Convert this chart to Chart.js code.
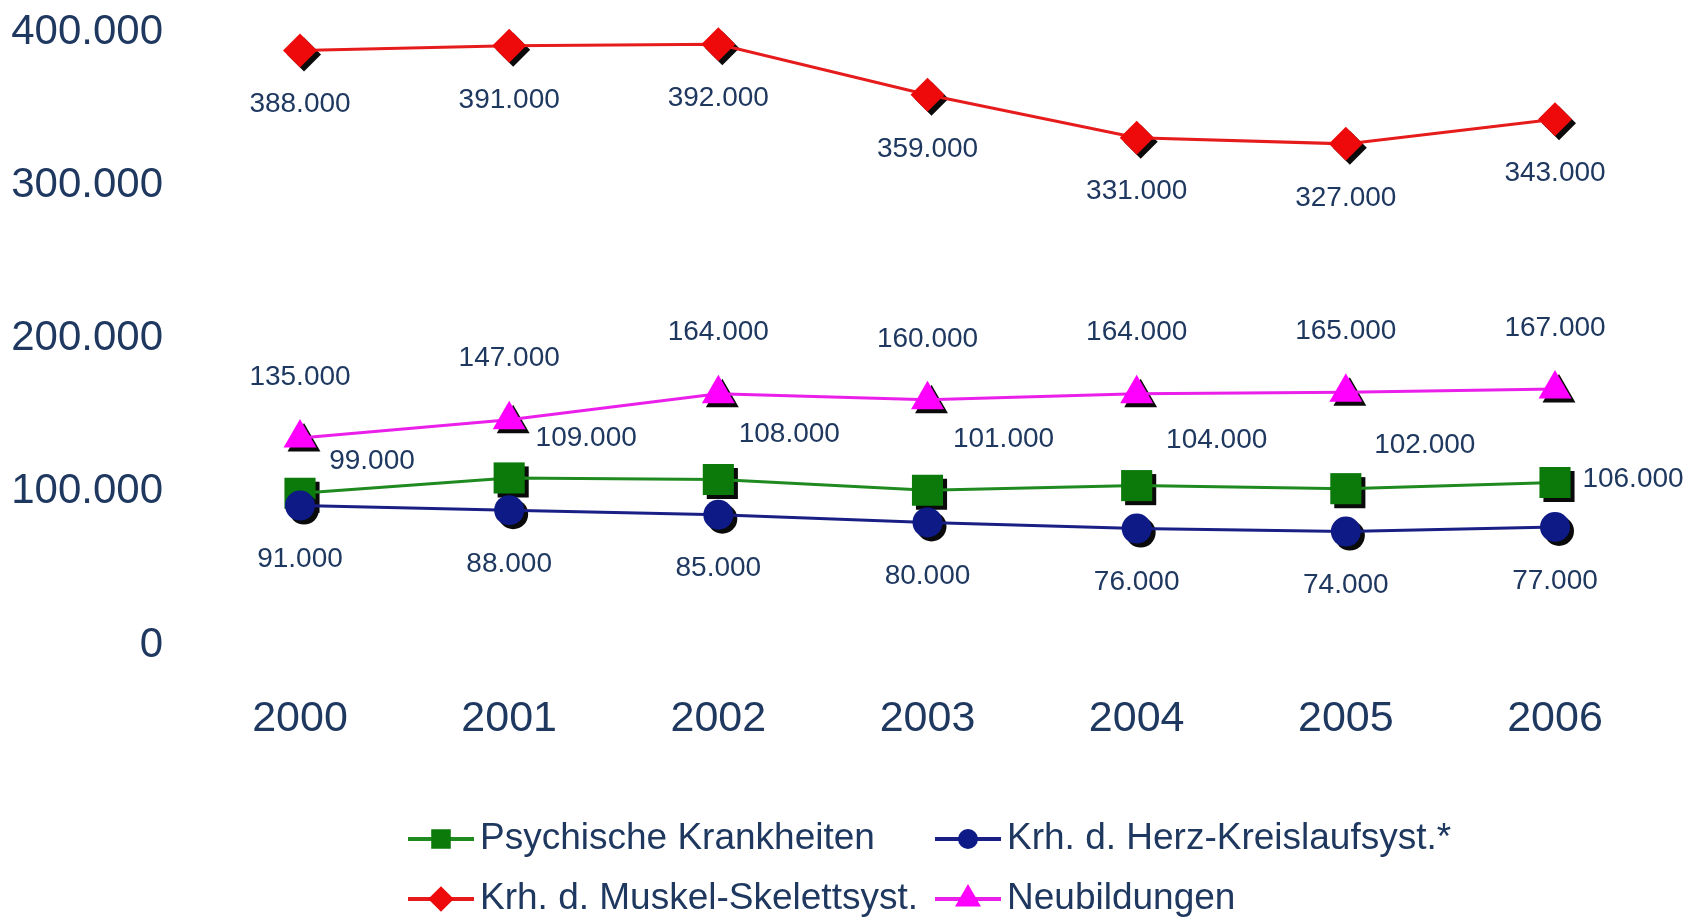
<!DOCTYPE html>
<html>
<head>
<meta charset="utf-8">
<title>AU-Tage nach Krankheitsarten</title>
<script src="https://cdn.jsdelivr.net/npm/chart.js@4.4.1/dist/chart.umd.min.js"></script>
<style>
  html, body { margin: 0; padding: 0; background: #fff; }
  #wrap { width: 1693px; height: 920px; position: relative; }
</style>
</head>
<body>
<div id="wrap"><canvas id="chartKrankheiten"></canvas></div>
<script>
/** data */
const years = ['2000', '2001', '2002', '2003', '2004', '2005', '2006'];
const psychisch = [99000, 109000, 108000, 101000, 104000, 102000, 106000];
const herzKreislauf = [91000, 88000, 85000, 80000, 76000, 74000, 77000];
const muskelSkelett = [388000, 391000, 392000, 359000, 331000, 327000, 343000];
const neubildungen = [135000, 147000, 164000, 160000, 164000, 165000, 167000];
const yTicks = [0, 100000, 200000, 300000, 400000];

const textColor = '#1f3860';
const fontFamily = '"Liberation Sans", Arial, sans-serif';

// 388000 -> "388.000"
function fmt(v) {
  return String(v).replace(/\B(?=(\d{3})+(?!\d))/g, '.');
}

/** where each series puts its value labels, relative to the marker */
const labelOffsets = {
  0: [[72, -32], [77, -40], [71, -45], [76, -51], [80, -45], [79, -43], [78, -3]],
  1: [[0, 54]],
  2: [[0, 54]],
  3: [[0, -61]]
};

/** black drop shadow behind every marker */
const markerShadow = {
  id: 'markerShadow',
  beforeDatasetDraw(chart, args) {
    const ctx = chart.ctx;
    ctx.save();
    ctx.fillStyle = '#0a0a0a';
    args.meta.data.forEach(pt => {
      const o = pt.options;
      Chart.helpers.drawPoint(ctx, {
        pointStyle: o.pointStyle, radius: o.radius, rotation: o.rotation, borderWidth: 0
      }, pt.x + 4, pt.y + 4);
    });
    ctx.restore();
  }
};

/** value labels next to the points */
const valueLabels = {
  id: 'valueLabels',
  afterDatasetsDraw(chart) {
    const ctx = chart.ctx;
    ctx.save();
    ctx.font = '28px ' + fontFamily;
    ctx.fillStyle = textColor;
    ctx.textBaseline = 'middle';
    ctx.textAlign = 'center';
    chart.data.datasets.forEach((ds, i) => {
      const offs = labelOffsets[i];
      chart.getDatasetMeta(i).data.forEach((pt, j) => {
        const o = offs[j] || offs[0];
        ctx.fillText(fmt(ds.data[j]), pt.x + o[0], pt.y + o[1]);
      });
    });
    ctx.restore();
  }
};

/** two column legend under the chart: line + marker + name */
const legendCells = [[408, 839], [935, 839], [408, 899], [935, 899]];
const gridLegend = {
  id: 'gridLegend',
  afterDraw(chart) {
    const ctx = chart.ctx;
    ctx.save();
    chart.data.datasets.forEach((ds, i) => {
      const [x, y] = legendCells[i];
      ctx.strokeStyle = ds.borderColor;
      ctx.lineWidth = 4;
      ctx.beginPath();
      ctx.moveTo(x, y);
      ctx.lineTo(x + 66, y);
      ctx.stroke();
      ctx.fillStyle = ds.pointBackgroundColor;
      ctx.strokeStyle = ds.pointBorderColor;
      Chart.helpers.drawPoint(ctx, {
        pointStyle: ds.pointStyle, radius: ds.legendRadius, rotation: 0, borderWidth: 1
      }, x + 33, y);
      ctx.fillStyle = textColor;
      ctx.font = '37px ' + fontFamily;
      ctx.textAlign = 'left';
      ctx.textBaseline = 'middle';
      ctx.fillText(ds.label, x + 72, y);
    });
    ctx.restore();
  }
};

const _chartKrankheiten = document.getElementById('chartKrankheiten');

new Chart(_chartKrankheiten, {
  type: 'line',
  data: {
    labels: years,
    datasets: [
      {
        label: 'Psychische Krankheiten',
        data: psychisch,
        borderColor: '#1f8a1f',
        borderWidth: 3,
        pointStyle: 'rect',
        pointRadius: 22,
        pointBackgroundColor: '#0b7a0b',
        pointBorderColor: '#0b7a0b',
        pointBorderWidth: 0,
        legendRadius: 11,
        order: 1
      },
      {
        label: 'Krh. d. Herz-Kreislaufsyst.*',
        data: herzKreislauf,
        borderColor: '#1a1f86',
        borderWidth: 3,
        pointStyle: 'circle',
        pointRadius: 15,
        pointBackgroundColor: '#0e1a86',
        pointBorderColor: '#0e1a86',
        pointBorderWidth: 0,
        legendRadius: 8,
        order: 0
      },
      {
        label: 'Krh. d. Muskel-Skelettsyst.',
        data: muskelSkelett,
        borderColor: '#e61c1c',
        borderWidth: 3,
        pointStyle: 'rectRot',
        pointRadius: 17,
        pointBackgroundColor: '#ee0a0a',
        pointBorderColor: '#ee0a0a',
        pointBorderWidth: 0,
        legendRadius: 10,
        order: 2
      },
      {
        label: 'Neubildungen',
        data: neubildungen,
        borderColor: '#ea1fea',
        borderWidth: 3,
        pointStyle: 'triangle',
        pointRadius: 19,
        pointBackgroundColor: '#ff00ff',
        pointBorderColor: '#ff00ff',
        pointBorderWidth: 0,
        legendRadius: 11,
        order: 3
      }
    ]
  },
  options: {
    responsive: true,
    maintainAspectRatio: false,
    animation: false,
    clip: false,
    layout: { padding: { left: 0, right: 138, top: 32, bottom: 0 } },
    plugins: {
      legend: { display: false },
      tooltip: { enabled: false }
    },
    scales: {
      x: {
        offset: false,
        grid: { display: false },
        border: { display: false },
        ticks: { color: textColor, font: { family: fontFamily, size: 43 }, padding: 40 },
        afterFit(s) { s.height = 275; }
      },
      y: {
        min: 0,
        max: 400000,
        grid: { display: false },
        border: { display: false },
        ticks: { color: textColor, font: { family: fontFamily, size: 42 }, padding: 129, callback: v => fmt(v) },
        afterBuildTicks(s) { s.ticks = yTicks.map(v => ({ value: v })); },
        afterFit(s) {
          s.width = 300;
          // tick padding would otherwise push the plot area down
          s.paddingTop = 20;
          s.paddingBottom = 20;
        }
      }
    }
  },
  plugins: [markerShadow, valueLabels, gridLegend]
});
</script>
</body>
</html>
